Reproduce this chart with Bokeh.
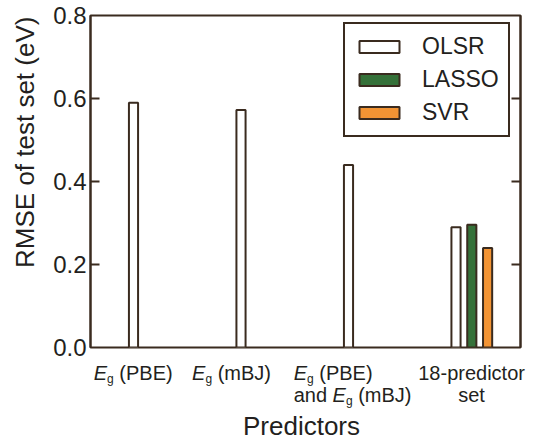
import math
from bokeh.plotting import figure
from bokeh.layouts import column, row
from bokeh.models import Range1d, LinearAxis, FixedTicker, Legend, LegendItem, ColumnDataSource
from bokeh.embed import file_html
from bokeh.resources import INLINE

# ---- data ----
categories = ["E_g (PBE)", "E_g (mBJ)", "E_g (PBE) and E_g (mBJ)", "18-predictor set"]
olsr = [0.590, 0.572, 0.440, 0.290]
lasso = [None, None, None, 0.296]
svr = [None, None, None, 0.240]
y_ticks = [0.0, 0.2, 0.4, 0.6, 0.8]
y_tick_labels = ["0.0", "0.2", "0.4", "0.6", "0.8"]
series_names = ["OLSR", "LASSO", "SVR"]
series_colors = ["#ffffff", "#357139", "#f39434"]
x_title = "Predictors"
y_title = "RMSE of test set (eV)"

DARK = "#3a2b1f"
TEXT = "#231f20"
FONT = "Liberation Sans"

W, H = 537, 440
FRAME_L, FRAME_R, FRAME_T, FRAME_B = 90, 520, 15, 347
A_W = 45            # strip with the y title
B_W = 43            # strip with the y tick labels
MAIN_X0 = A_W + B_W  # 88
MAIN_H = 350
CAT_W = (FRAME_R - FRAME_L) / 4


def blank(width, height, xr, yr):
    f = figure(width=width, height=height, output_backend="svg", toolbar_location=None,
               x_range=Range1d(*xr), y_range=Range1d(*yr), min_border=0)
    f.axis.visible = False
    f.grid.visible = False
    f.outline_line_color = None
    f.background_fill_color = "white"
    f.border_fill_color = "white"
    return f

# ---- main plot ----
p = figure(width=W - MAIN_X0, height=MAIN_H, output_backend="svg", toolbar_location=None,
           x_range=Range1d(0, 4), y_range=Range1d(0, 0.8), min_border=0)
p.min_border_left = FRAME_L - MAIN_X0
p.min_border_right = W - FRAME_R
p.min_border_top = FRAME_T
p.min_border_bottom = MAIN_H - FRAME_B
p.background_fill_color = "white"
p.border_fill_color = "white"
p.grid.visible = False
p.outline_line_color = DARK
p.outline_line_width = 2
p.xaxis.visible = False


def tick_axis(ax, ticks):
    ax.ticker = FixedTicker(ticks=ticks)
    ax.major_label_overrides = {t: "" for t in ticks}
    ax.major_tick_in = 9
    ax.major_tick_out = 0
    ax.minor_tick_in = 0
    ax.minor_tick_out = 0
    ax.major_tick_line_color = DARK
    ax.major_tick_line_width = 2
    ax.axis_line_color = DARK
    ax.axis_line_width = 2
    ax.major_label_standoff = 0
    ax.major_label_text_font_size = "1px"

tick_axis(p.yaxis[0], y_ticks[1:-1])
ra = LinearAxis()
tick_axis(ra, y_ticks[1:-1])
p.add_layout(ra, "right")

offsets = [0.40, 0.547, 0.694]
bar_w = 0.085
renderers = []
for k, vals in enumerate([olsr, lasso, svr]):
    xs = [i + offsets[k] for i, v in enumerate(vals) if v is not None]
    ys = [v for v in vals if v is not None]
    src = ColumnDataSource(dict(x=xs, top=ys))
    r = p.vbar(x="x", top="top", bottom=0, width=bar_w, source=src,
               fill_color=series_colors[k], line_color=DARK, line_width=2)
    renderers.append(r)

legend = Legend(items=[LegendItem(label=n, renderers=[r]) for n, r in zip(series_names, renderers)],
                location=(253, 210))
legend.label_text_font = FONT
legend.label_text_font_size = "23px"
legend.label_text_color = TEXT
legend.glyph_width = 50
legend.glyph_height = 15
legend.label_height = 23
legend.label_standoff = 18
legend.spacing = 6
legend.padding = 9
legend.margin = 0
legend.border_line_color = DARK
legend.border_line_width = 2
legend.border_line_alpha = 1
legend.background_fill_alpha = 1
p.add_layout(legend, "center")

# ---- strip B: y tick labels, on the same y scale ----
b = figure(width=B_W, height=H, output_backend="svg", toolbar_location=None,
           x_range=Range1d(0, 1), y_range=Range1d(0, 0.8), min_border=0)
b.min_border_left = B_W - 1
b.min_border_right = 0
b.min_border_top = FRAME_T
b.min_border_bottom = H - FRAME_B
b.grid.visible = False
b.outline_line_color = None
b.xaxis.visible = False
yb = b.yaxis[0]
yb.ticker = FixedTicker(ticks=y_ticks)
yb.major_label_overrides = {t: s for t, s in zip(y_ticks, y_tick_labels)}
yb.major_tick_in = 0
yb.major_tick_out = 0
yb.minor_tick_in = 0
yb.minor_tick_out = 0
yb.axis_line_color = None
yb.major_label_text_font = FONT
yb.major_label_text_font_size = "24px"
yb.major_label_text_color = TEXT
yb.major_label_standoff = 1

# ---- strip A: y title ----
a = blank(A_W, H, (0, A_W), (0, H))
a.text(x=[24.5], y=[H - 168], text=[y_title], angle=math.pi / 2,
       text_font={"value": FONT}, text_font_size="26px", text_color=TEXT,
       text_align="center", text_baseline="middle")

# ---- bottom strip with category labels and x title (global pixel coords) ----
BOT_H = H - MAIN_H
bot = blank(W - MAIN_X0, BOT_H, (MAIN_X0, W), (0, BOT_H))
FS, SUB = 20, 12
ADV = {' ': .278, '(': .333, ')': .333, 'P': .667, 'B': .667, 'E': .667, 'm': .833,
       'J': .5, 'a': .556, 'n': .556, 'd': .556, 'g': .556}

def adv(s, size):
    return sum(ADV.get(c, .556) for c in s) * size

def ly(y_global):
    return H - y_global

parts = {"x": [], "y": [], "text": [], "size": [], "style": []}

def put(x, y, t, size, style="normal"):
    parts["x"].append(x); parts["y"].append(y); parts["text"].append(t)
    parts["size"].append(f"{size}px"); parts["style"].append(style)

def eg_label(x0, yb_, prefix, suffix):
    x = x0
    if prefix:
        put(x, ly(yb_), prefix, FS)
        x += adv(prefix + " ", FS)
    put(x, ly(yb_), "E", FS, "italic")
    x += adv("E", FS)
    put(x, ly(yb_ + 6), "g", SUB)
    x += adv("g", SUB) + adv(" ", FS)
    put(x, ly(yb_), suffix, FS)

LINE1, LINE2 = 372, 394
label_start = [0.03, -0.055, -0.11]
def cat_px(i, off):
    return FRAME_L + (i + off) * CAT_W

eg_label(cat_px(0, label_start[0]), LINE1, "", "(PBE)")
eg_label(cat_px(1, label_start[1]), LINE1, "", "(mBJ)")
eg_label(cat_px(2, label_start[2]), LINE1, "", "(PBE)")
eg_label(cat_px(2, label_start[2]), LINE2, "and", "(mBJ)")

src = ColumnDataSource(parts)
bot.text(x="x", y="y", text="text", text_font_size="size", text_font_style="style",
         text_font={"value": FONT}, text_color=TEXT, text_align="left",
         text_baseline="alphabetic", source=src)

last = categories[3].split(" ")
bot.text(x=[cat_px(3, 0.545)] * 2, y=[ly(LINE1), ly(LINE2)], text=last,
         text_font={"value": FONT}, text_font_size=f"{FS}px", text_color=TEXT,
         text_align="center", text_baseline="alphabetic")
bot.text(x=[301], y=[ly(425)], text=[x_title], text_font={"value": FONT},
         text_font_size="26px", text_color=TEXT, text_align="center",
         text_baseline="alphabetic")

layout = row(a, b, column(row(p), row(bot), spacing=0), spacing=0)
open("out.html", "w").write(file_html(layout, INLINE))
